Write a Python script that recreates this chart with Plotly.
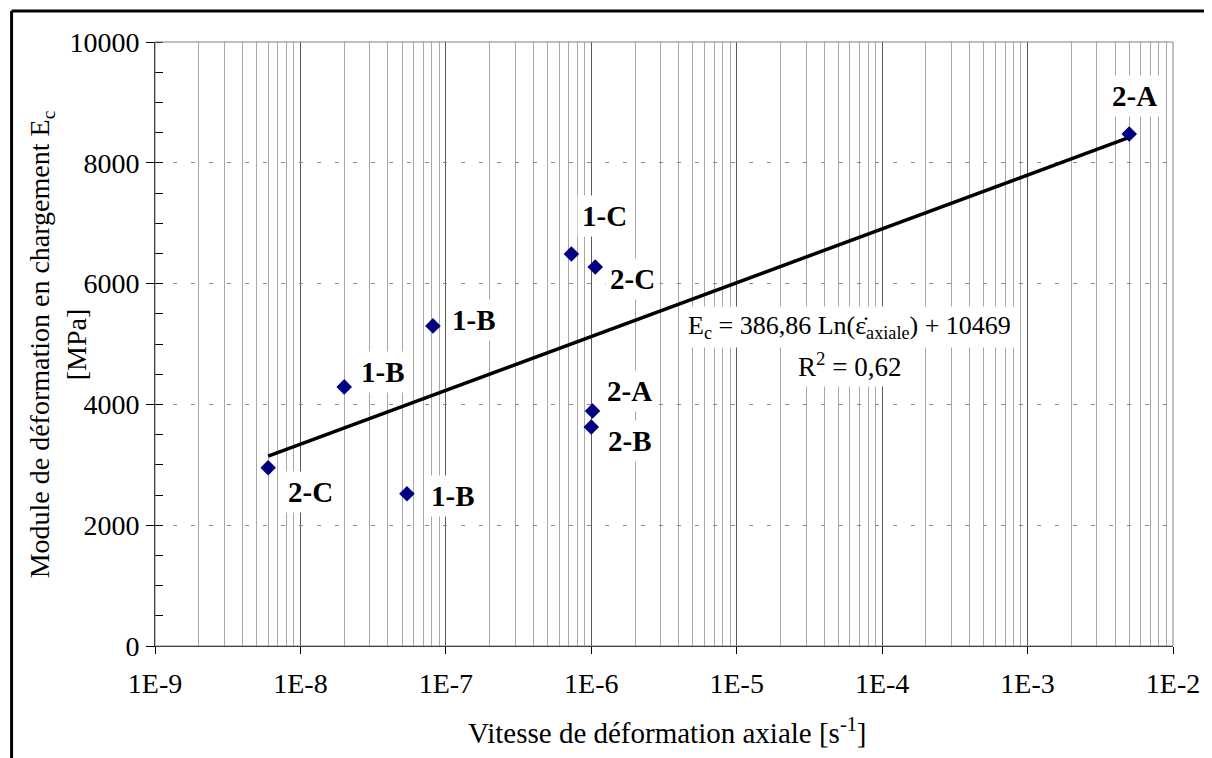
import numpy as np
import plotly.graph_objects as go

# ---- data ----
strain_rate = [6.0e-9, 2.0e-8, 5.4e-8, 8.15e-8, 7.3e-7, 1.065e-6, 1.02e-6, 1.0e-6, 5.0e-3]
modulus = [2950, 4290, 2520, 5300, 6490, 6275, 3890, 3625, 8477]
labels = ["2-C", "1-B", "1-B", "1-B", "1-C", "2-C", "2-A", "2-B", "2-A"]
# label offsets in pixels (dx, dy) relative to the point
label_dx = [42, 39, 46, 41, 33, 37, 37, 39, 5]
label_dy = [-24, 15, -2, 6, 38, -12, 20, -14, 38]

trend_a = 386.86
trend_b = 10469
r2 = "0,62"

x_tick_vals = [1e-9, 1e-8, 1e-7, 1e-6, 1e-5, 1e-4, 1e-3, 1e-2]
x_tick_text = ["1E-9", "1E-8", "1E-7", "1E-6", "1E-5", "1E-4", "1E-3", "1E-2"]
x_minor_vals = [k * d for d in x_tick_vals[:-1] for k in range(2, 10)]

FONT = "Liberation Serif"

# trend line over the data range
xt = np.array([min(strain_rate), max(strain_rate)])
yt = trend_a * np.log(xt) + trend_b

fig = go.Figure()
fig.add_trace(go.Scatter(x=xt, y=yt, mode="lines",
                         line=dict(color="black", width=3.5), hoverinfo="skip"))
fig.add_trace(go.Scatter(x=strain_rate, y=modulus, mode="markers",
                         marker=dict(symbol="diamond", size=12, color="#000080"),
                         hoverinfo="skip"))

annotations = []
for xv, yv, lab, dx, dy in zip(strain_rate, modulus, labels, label_dx, label_dy):
    annotations.append(dict(x=np.log10(xv), y=yv, xref="x", yref="y", text=lab,
                            showarrow=False, xshift=dx, yshift=dy,
                            xanchor="center", yanchor="middle",
                            font=dict(family=FONT, size=29, color="black", weight="bold"),
                            bgcolor="white", borderpad=4))

annotations.append(dict(x=0.682, y=0.528, xref="paper", yref="paper",
                        xanchor="center", yanchor="middle",
                        text="E<sub>c</sub> = 386,86 Ln(\u03b5\u0307<sub>axiale</sub>) + 10469",
                        showarrow=False, font=dict(family=FONT, size=26, color="black"),
                        bgcolor="white", borderpad=4))
annotations.append(dict(x=0.682, y=0.465, xref="paper", yref="paper",
                        xanchor="center", yanchor="middle",
                        text="R<sup>2</sup> = " + r2,
                        showarrow=False, font=dict(family=FONT, size=27, color="black"),
                        bgcolor="white", borderpad=4))
# axis titles
annotations.append(dict(x=-0.0959, y=0.5, xref="paper", yref="paper",
                        xanchor="center", yanchor="middle",
                        text="Module de déformation en chargement E<sub>c</sub><br>[MPa]",
                        textangle=-90, showarrow=False,
                        font=dict(family=FONT, size=28, color="black")))
annotations.append(dict(x=0.503, y=-0.14, xref="paper", yref="paper",
                        xanchor="center", yanchor="middle",
                        text="Vitesse de déformation axiale [s<sup>-1</sup>]",
                        showarrow=False,
                        font=dict(family=FONT, size=29, color="black")))

shapes = [
    dict(type="rect", xref="paper", yref="paper", x0=0, x1=1, y0=0, y1=1,
         line=dict(color="#808080", width=1), layer="above"),
    # outer frame: top and left edges (right/bottom lie outside the picture)
    dict(type="line", xref="paper", yref="paper", x0=-0.1409, x1=1.2, y0=1.0513, y1=1.0513,
         line=dict(color="black", width=3)),
    dict(type="line", xref="paper", yref="paper", x0=-0.1409, x1=-0.1409, y0=-0.3, y1=1.0513,
         line=dict(color="black", width=3)),
]

fig.update_layout(
    width=1204, height=750,
    margin=dict(l=147, r=35, t=34, b=112),
    paper_bgcolor="white", plot_bgcolor="white",
    showlegend=False,
    font=dict(family=FONT, size=28, color="black"),
    annotations=annotations,
    shapes=shapes,
    xaxis=dict(type="log", range=[-9, -2], tickmode="array",
               tickvals=x_tick_vals, ticktext=x_tick_text,
               showgrid=True, gridcolor="#5a5a5a", gridwidth=1,
               ticks="outside", ticklen=7, tickcolor="black",
               showline=True, linecolor="black", linewidth=1,
               tickfont=dict(family=FONT, size=28, color="black"),
               ticklabelstandoff=5,
               minor=dict(tickmode="array", tickvals=x_minor_vals, showgrid=True,
                          gridcolor="#a8a8a8", gridwidth=1, ticks=""),
               zeroline=False),
    yaxis=dict(range=[0, 10000], dtick=2000, tickformat="d",
               showgrid=True, gridcolor="#8a8a8a", gridwidth=1, griddash="4px,14px",
               ticks="outside", ticklen=8, tickcolor="black",
               showline=True, linecolor="black", linewidth=1,
               tickfont=dict(family=FONT, size=28, color="black"),
               ticklabelstandoff=1,
               minor=dict(dtick=500, ticks="inside", ticklen=8, tickcolor="black",
                          showgrid=False),
               zeroline=False),
)

fig.write_html("out.html")
